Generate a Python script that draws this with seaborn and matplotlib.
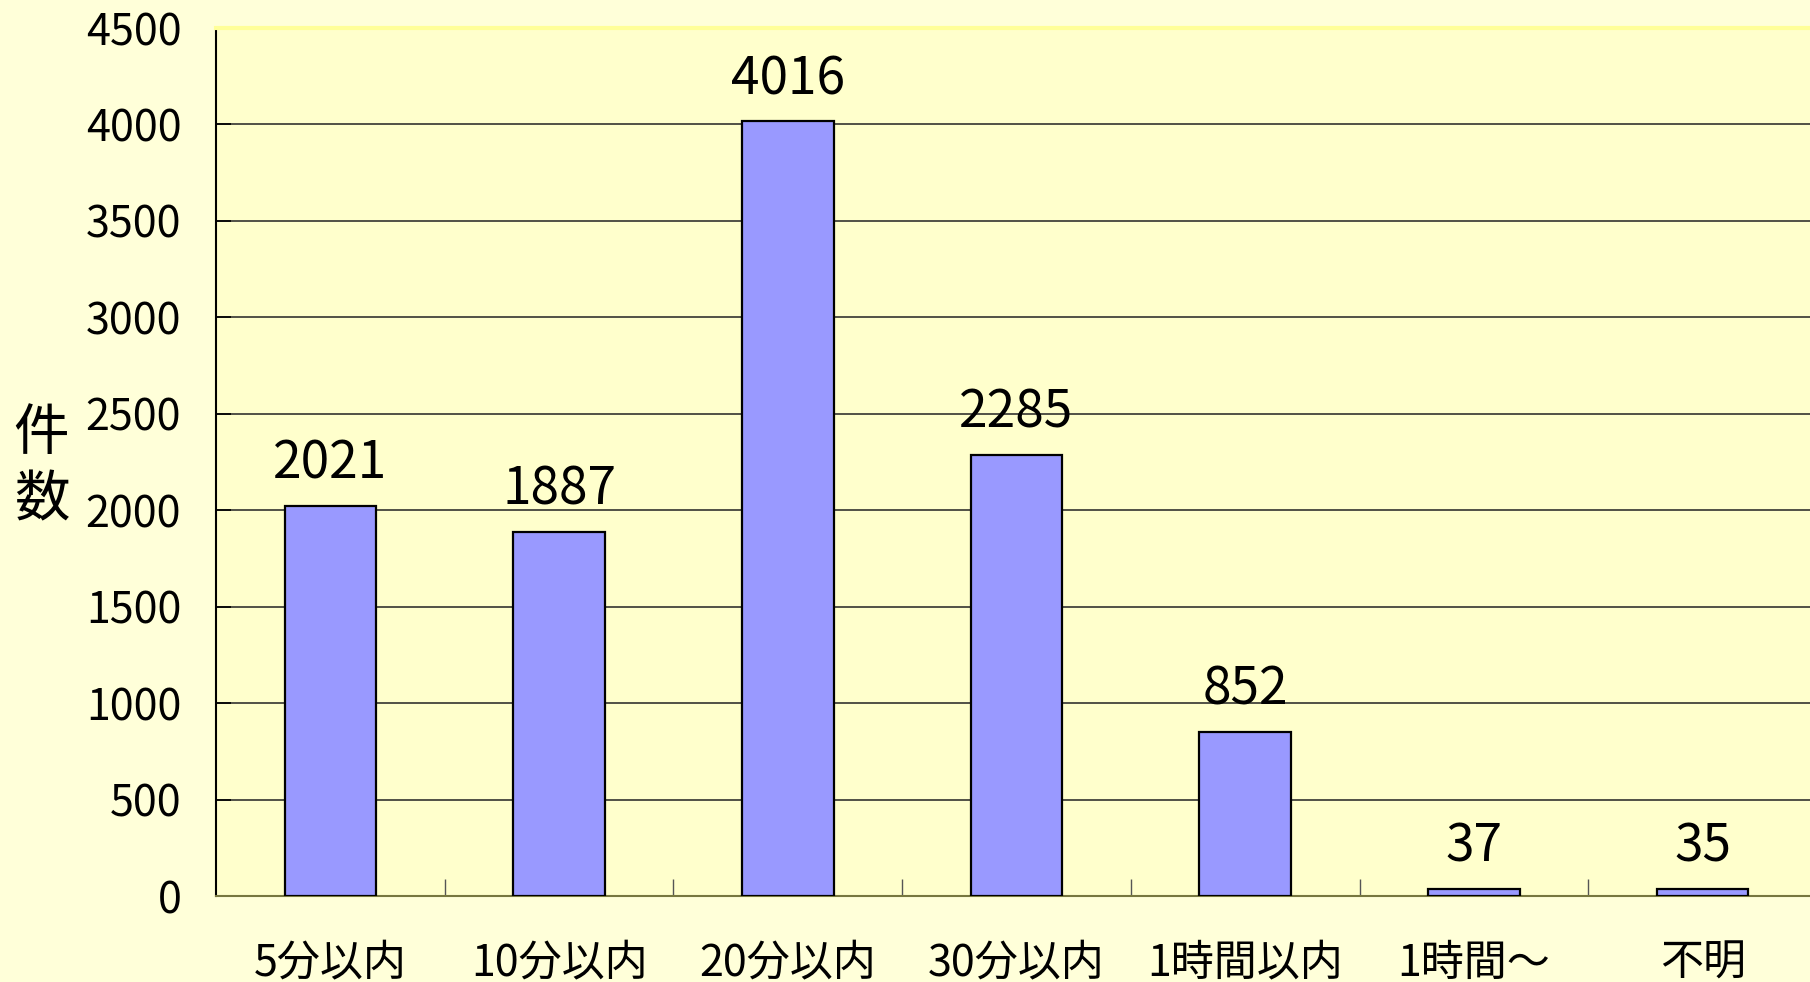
import matplotlib
matplotlib.use("Agg")
import matplotlib.pyplot as plt
import seaborn as sns
import pandas as pd
from matplotlib.ticker import FixedLocator, MultipleLocator

categories = ["5分以内", "10分以内", "20分以内", "30分以内", "1時間以内", "1時間～", "不明"]
counts = [2021, 1887, 4016, 2285, 852, 37, 35]
y_label = "件\n数"

df = pd.DataFrame({"category": categories, "count": counts})

sns.set_style("white")
plt.rcParams["font.family"] = ["Noto Sans CJK JP", "DejaVu Sans"]
plt.rcParams["text.color"] = "black"
plt.rcParams["axes.labelcolor"] = "black"
plt.rcParams["xtick.color"] = "black"
plt.rcParams["ytick.color"] = "black"

fig = plt.figure(figsize=(18.10, 9.82), dpi=100, facecolor="#FFFFD9")
ax = fig.add_axes([216 / 1810, 1 - 896 / 982, 1601 / 1810, (896 - 28) / 982])
ax.set_facecolor("#FFFFCC")

sns.barplot(data=df, x="category", y="count", ax=ax, color="#9999FF",
            saturation=1, width=0.4, edgecolor="black", linewidth=1.6,
            zorder=3)

ax.set_ylim(0, 4500)
ax.set_xlim(-0.5, len(categories) - 0.5)
ax.yaxis.set_major_locator(MultipleLocator(500))
ax.grid(axis="y", color="#222222", linewidth=1.1, zorder=1)
ax.set_axisbelow(True)

ax.spines["right"].set_visible(False)
ax.spines["top"].set_color("#FFFF99")
ax.spines["top"].set_linewidth(3)
ax.spines["left"].set_color("black")
ax.spines["left"].set_linewidth(1.5)
ax.spines["bottom"].set_color("#77773f")
ax.spines["bottom"].set_linewidth(1.5)

ax.tick_params(axis="y", left=True, direction="in", length=11, width=1.2,
               color="black", labelsize=31, pad=25, labelcolor="black")
ax.tick_params(axis="x", which="major", bottom=True, length=0, labelsize=31,
               pad=33, labelcolor="black")
ax.xaxis.set_minor_locator(FixedLocator([i + 0.5 for i in range(len(categories) - 1)]))
ax.tick_params(axis="x", which="minor", bottom=True, direction="in", length=12,
               width=1.0, color="#555555")

ax.set_xlabel("")
ax.set_ylabel(y_label, rotation=0, fontsize=40, linespacing=1.2,
              ha="center", va="center", color="black")
ax.yaxis.set_label_coords(-0.109, 0.494)

for c in ax.containers:
    ax.bar_label(c, labels=[str(v) for v in counts], fontsize=37, padding=11,
                 color="black")

fig.savefig("out.png", dpi=100, facecolor=fig.get_facecolor())
